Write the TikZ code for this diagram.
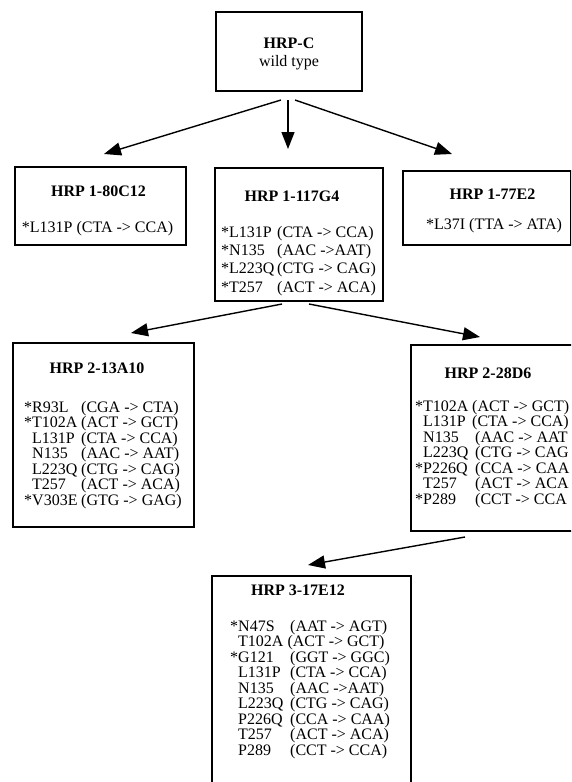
\documentclass[tikz,border=0pt]{standalone}
\usepackage{fontspec}
\setmainfont{Liberation Serif}
\usetikzlibrary{arrows.meta}

% one mutation line: asterisk hangs left, name in a fixed column
\newcommand{\mut}[4][49pt]{\llap{#2}\makebox[#1][l]{#3}#4}

\tikzset{
  clonebox/.style={draw, line width=1.1pt, inner sep=0pt},
  cname/.style={font=\fontsize{16}{19}\selectfont\bfseries, anchor=base, inner sep=0pt},
  cline/.style={font=\fontsize{16}{19}\selectfont, anchor=base, inner sep=0pt},
  muts/.style={font=\fontsize{16}{#1}\selectfont, align=left, anchor=north west, inner sep=0pt},
  arr/.style={-{Triangle[length=17pt,width=13pt]}, line width=1.4pt}
}

\begin{document}
\begin{tikzpicture}[x=1pt,y=-1pt]
  \useasboundingbox (0,0) rectangle (571,782);
  \clip (0,0) rectangle (571,782);

  % Wild type
  \node[clonebox, minimum width=146pt, minimum height=79pt] (wt) at (289,51.5) {};
  \node[cname] (wtname) at (289,48) {HRP-C};
  \node[cline] (wtnote) at (289,66) {wild type};

  % First round
  \node[clonebox, minimum width=171pt, minimum height=78pt] (g80) at (100.5,206) {};
  \node[cname] (g80name) at (98.5,196) {HRP 1-80C12};
  \node[cline] (g80mut) at (97.5,232) {*L131P (CTA -> CCA)};

  \node[clonebox, minimum width=168pt, minimum height=133pt] (g117) at (299,234.5) {};
  \node[cname] (g117name) at (292,201) {HRP 1-117G4};
  \node[muts=18.3pt] (g117mut) at (229,226) {%
    \mut[48pt]{*}{L131P}{(CTA -> CCA)}\\
    \mut[48pt]{*}{N135}{(AAC ->AAT)}\\
    \mut[48pt]{*}{L223Q}{(CTG -> CAG)}\\
    \mut[48pt]{*}{T257}{(ACT -> ACA)}};

  \node[clonebox, minimum width=168pt, minimum height=74pt] (g77) at (487,208) {};
  \node[cname] (g77name) at (492.5,199) {HRP 1-77E2};
  \node[cline] (g77mut) at (494,229) {*L37I (TTA -> ATA)};

  % Second round
  \node[clonebox, minimum width=181pt, minimum height=184pt] (g13) at (103.5,435) {};
  \node[cname] (g13name) at (97,373) {HRP 2-13A10};
  \node[muts=13.9pt] (g13mut) at (32,401) {%
    \mut{*}{R93L}{(CGA -> CTA)}\\
    \mut{*}{T102A}{(ACT -> GCT)}\\
    \mut{}{L131P}{(CTA -> CCA)}\\
    \mut{}{N135}{(AAC -> AAT)}\\
    \mut{}{L223Q}{(CTG -> CAG)}\\
    \mut{}{T257}{(ACT -> ACA)}\\
    \mut{*}{V303E}{(GTG -> GAG)}};

  \node[clonebox, minimum width=190pt, minimum height=186pt] (g28) at (506,438) {};
  \node[cname] (g28name) at (488,378) {HRP 2-28D6};
  \node[muts=13.6pt] (g28mut) at (423,400) {%
    \mut{*}{T102A}{(ACT -> GCT)}\\
    \mut{}{L131P}{(CTA -> CCA)}\\
    \mut[52pt]{}{N135}{(AAC -> AAT}\\
    \mut[52pt]{}{L223Q}{(CTG -> CAG}\\
    \mut[52pt]{*}{P226Q}{(CCA -> CAA}\\
    \mut[52pt]{}{T257}{(ACT -> ACA}\\
    \mut[52pt]{*}{P289}{(CCT -> CCA}};

  % Third round
  \node[clonebox, minimum width=199pt, minimum height=230pt] (g3) at (311.5,691) {};
  \node[cname] (g3name) at (298,595) {HRP 3-17E12};
  \node[muts=14.2pt] (g3mut) at (238,620) {%
    \mut[52pt]{*}{N47S}{(AAT -> AGT)}\\
    T102A (ACT -> GCT)\\
    \mut[52pt]{*}{G121}{(GGT -> GGC)}\\
    \mut[52pt]{}{L131P}{(CTA -> CCA)}\\
    \mut[52pt]{}{N135}{(AAC ->AAT)}\\
    \mut[52pt]{}{L223Q}{(CTG -> CAG)}\\
    \mut[52pt]{}{P226Q}{(CCA -> CAA)}\\
    \mut[52pt]{}{T257}{(ACT -> ACA)}\\
    \mut[52pt]{}{P289}{(CCT -> CCA)}};

  % Arrow ends
  \coordinate (wtl) at (281,100);
  \coordinate (wtm) at (288,100);
  \coordinate (wtr) at (295,100);
  \coordinate (g80in) at (104,154);
  \coordinate (g117in) at (288,149);
  \coordinate (g77in) at (452,154);
  \coordinate (g117l) at (282,304);
  \coordinate (g117r) at (309,304);
  \coordinate (g13in) at (131,333);
  \coordinate (g28in) at (480,337);
  \coordinate (g28out) at (465,537);
  \coordinate (g3in) at (308,565);

  \draw[arr] (wtl) -- (g80in);
  \draw[arr] (wtm) -- (g117in);
  \draw[arr] (wtr) -- (g77in);
  \draw[arr] (g117l) -- (g13in);
  \draw[arr] (g117r) -- (g28in);
  \draw[arr] (g28out) -- (g3in);
\end{tikzpicture}
\end{document}
